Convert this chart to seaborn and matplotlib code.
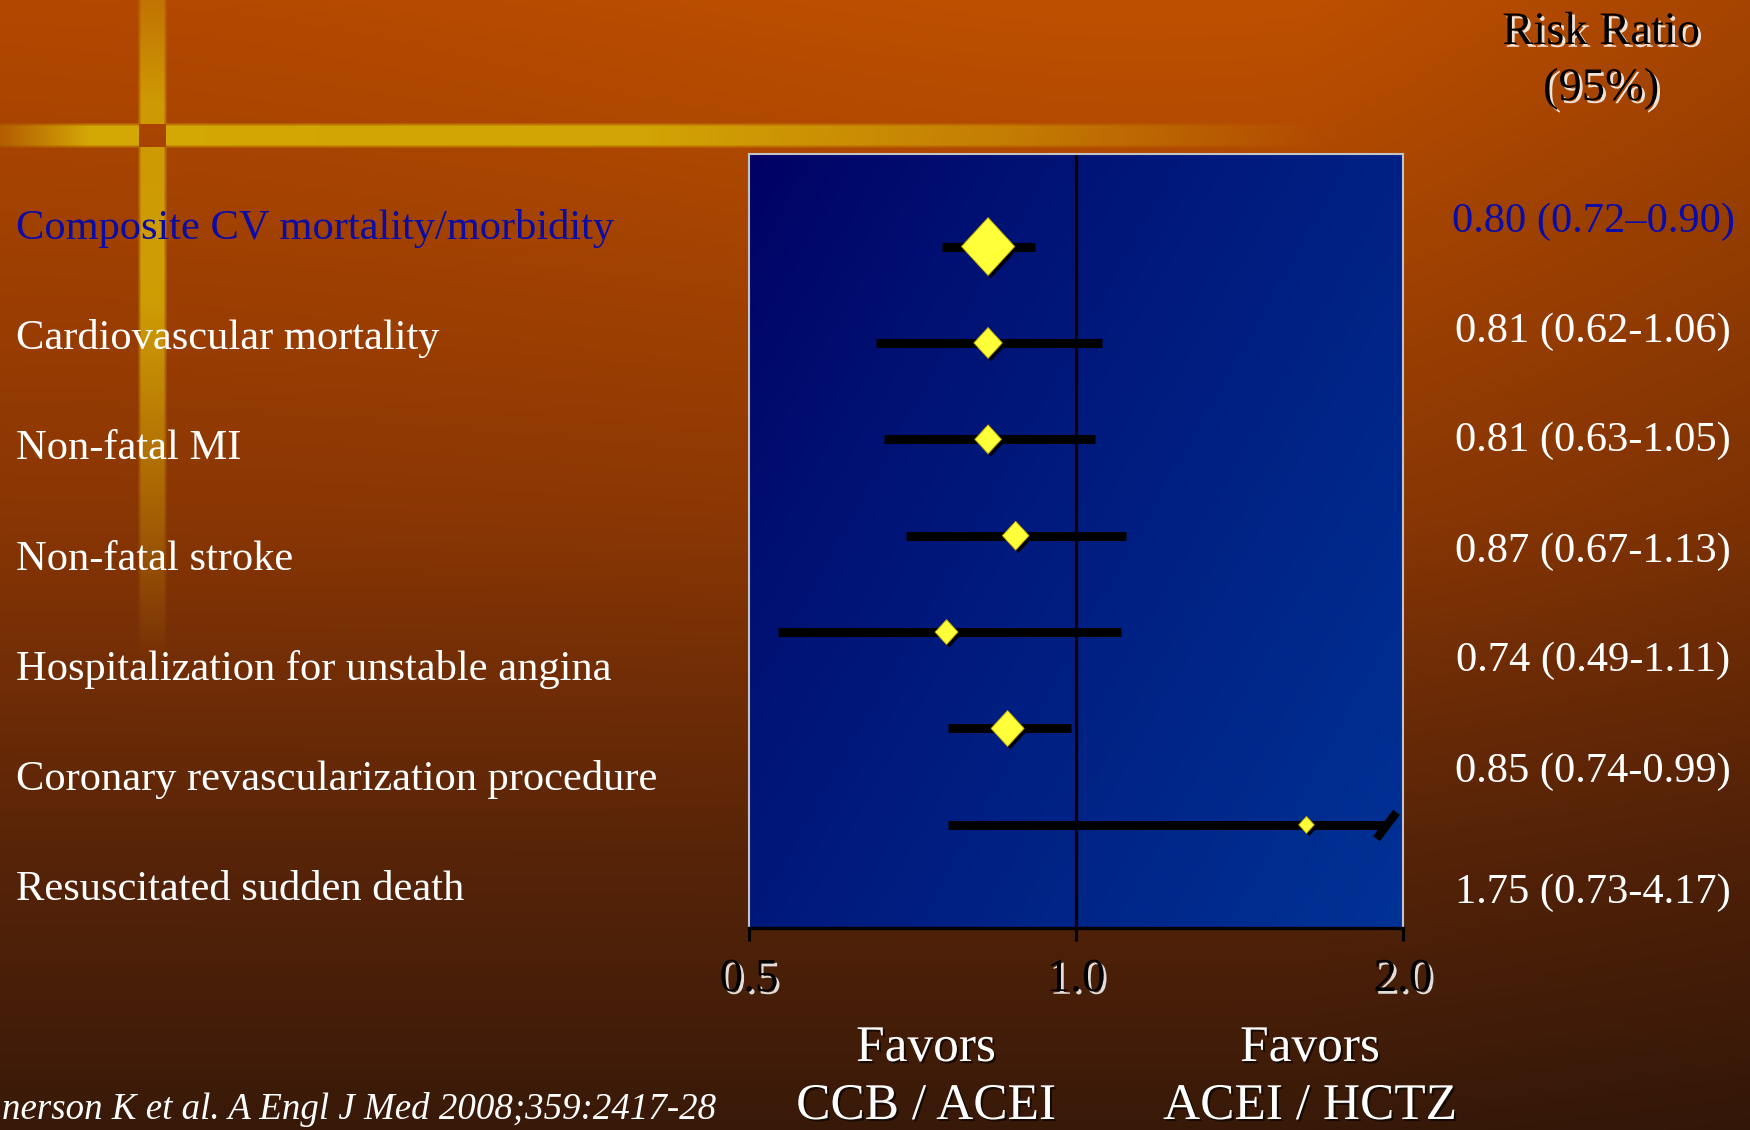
import numpy as np
import pandas as pd
import matplotlib
matplotlib.use("Agg")
import matplotlib.pyplot as plt
import matplotlib.patheffects as pe
import matplotlib.transforms as mtransforms
from matplotlib.path import Path
from matplotlib.markers import MarkerStyle
from matplotlib.ticker import NullLocator
import seaborn as sns

# ---------------- data ----------------
outcomes = [
    "Composite CV mortality/morbidity",
    "Cardiovascular mortality",
    "Non-fatal MI",
    "Non-fatal stroke",
    "Hospitalization for unstable angina",
    "Coronary revascularization procedure",
    "Resuscitated sudden death",
]
rr_labels = [
    "0.80 (0.72\u20130.90)",
    "0.81 (0.62-1.06)",
    "0.81 (0.63-1.05)",
    "0.87 (0.67-1.13)",
    "0.74 (0.49-1.11)",
    "0.85 (0.74-0.99)",
    "1.75 (0.73-4.17)",
]
# values as drawn on the plot
rr_point = [0.83, 0.83, 0.83, 0.88, 0.76, 0.865, 1.63]
ci_low = [0.752, 0.655, 0.665, 0.698, 0.532, 0.762, 0.762]
ci_high = [0.917, 1.056, 1.042, 1.111, 1.101, 0.99, 4.17]
xticks = [0.5, 1.0, 2.0]
xtick_labels = ["0.5", "1.0", "2.0"]
favor_left = ["Favors", "CCB / ACEI"]
favor_right = ["Favors", "ACEI / HCTZ"]
header = ["Risk Ratio", "(95%)"]
citation = "nerson K et al. A Engl J Med 2008;359:2417-28"

# ---------------- style ----------------
marker_px = [58, 31, 29, 29, 25, 36, 17]     # diamond heights (px)
W, H = 1750, 1130
BOX = (749, 154, 1403, 928)                   # left, top, right, bottom (px)
CLIP_X = 1.93
serif = "Liberation Serif"
BLUE_TXT = "#0B0BA6"

sns.set_style("white")
plt.rcParams["font.family"] = [serif, "DejaVu Serif"]

# ---------------- background image ----------------
yy, xx = np.mgrid[0:H, 0:W].astype(float)
v = yy / H
stops_v = [0.0, 0.45, 0.75, 1.0]
cols = np.array([[178, 72, 0], [138, 54, 4], [88, 36, 8], [56, 25, 9]], float)
bg = np.zeros((H, W, 3))
for c in range(3):
    bg[..., c] = np.interp(v, stops_v, cols[:, c])
glow = np.exp(-(((xx - 1150) / 700) ** 2 + ((yy - 0) / 450) ** 2))
bg += glow[..., None] * np.array([12, 8, 0])
bg *= (1 - 0.10 * np.clip((xx - 1300) / 450, 0, 1))[..., None]

gold = np.array([212, 168, 5], float)
hy = np.clip((13 - np.abs(yy - 135)) / 4, 0, 1)
hx = np.interp(xx, [0, 90, 650, 1000, 1320], [0.25, 1.0, 0.95, 0.55, 0.0])
ah = hy * hx
vx = np.clip((15 - np.abs(xx - 152)) / 4, 0, 1)
vyp = np.interp(yy, [0, 100, 300, 500, 660], [0.45, 0.85, 0.9, 0.4, 0.0])
av = vx * vyp
a = np.maximum(ah, av)
inter = (np.abs(xx - 152) < 14) & (np.abs(yy - 135) < 12)
a[inter] = 0
bg = bg * (1 - a[..., None]) + gold * a[..., None]

l, t, r, b = BOX
inbox = (xx >= l) & (xx < r) & (yy >= t) & (yy < b)
tt = ((xx - l) / (r - l) * 0.6 + (yy - t) / (b - t) * 0.4)
tt = np.clip(tt, 0, 1) ** 0.8
blue0 = np.array([0, 0, 98], float)
blue1 = np.array([0, 50, 150], float)
bl = blue0 + tt[..., None] * (blue1 - blue0)
bg[inbox] = bl[inbox]
bg = np.clip(bg, 0, 255).astype(np.uint8)

# ---------------- figure ----------------
fig = plt.figure(figsize=(W / 100, H / 100), dpi=100)
fig.figimage(bg, xo=0, yo=0, origin="upper", zorder=-10)

ax = fig.add_axes([l / W, 1 - b / H, (r - l) / W, (b - t) / H])
ax.set_zorder(1)
ax.set_facecolor("none")
ax.set_xscale("log", base=2)

df = pd.DataFrame({
    "outcome": outcomes,
    "row": np.arange(len(outcomes)),
    "rr": rr_point,
    "lo": ci_low,
    "hi": ci_high,
})
df["hi_draw"] = np.minimum(df["hi"], CLIP_X)

ax.axvline(1.0, color="black", lw=2.3, zorder=1.5)
ax.hlines(df["row"], df["lo"], df["hi_draw"], color="black", lw=6.5, zorder=2)

slash = Path([(-0.38, -0.5), (0.38, 0.5)], [Path.MOVETO, Path.LINETO])
trunc = df[df["hi"] > CLIP_X]
ax.plot(trunc["hi_draw"], trunc["row"], linestyle="none", marker=slash,
        markersize=19, markeredgewidth=6, color="black", zorder=2,
        clip_on=False)

diamond = MarkerStyle(Path([(0, 1), (0.92, 0), (0, -1), (-0.92, 0), (0, 1)],
                           [Path.MOVETO, Path.LINETO, Path.LINETO, Path.LINETO,
                            Path.CLOSEPOLY]))
sizes = [(p * 0.72) ** 2 for p in marker_px]
sns.scatterplot(data=df, x="rr", y="row", s=sizes, marker=diamond,
                color="#FFFF3A", edgecolor="#B8A000", linewidth=0.6,
                legend=False, ax=ax, zorder=4)
ax.collections[-1].set_path_effects([
    pe.SimplePatchShadow(offset=(2, -2), shadow_rgbFace="black", alpha=0.95),
    pe.Normal()])

ax.set_xlim(xticks[0], xticks[-1])
ax.set_ylim(7.07, -0.96)
ax.set_xticks(xticks)
ax.set_xticklabels([])
ax.xaxis.set_minor_locator(NullLocator())
ax.set_yticks([])
ax.set_xlabel("")
ax.set_ylabel("")
ax.tick_params(axis="x", direction="out", length=9.5, width=2.2,
               color="black", bottom=True)
for side in ["left", "right", "top"]:
    ax.spines[side].set_color("#C4C4C8")
    ax.spines[side].set_linewidth(1.5)
ax.spines["bottom"].set_color("black")
ax.spines["bottom"].set_linewidth(2.4)

shadow_white = [pe.SimplePatchShadow(offset=(2, -2), shadow_rgbFace="white",
                                     alpha=0.85), pe.Normal()]
shadow_dark = [pe.SimplePatchShadow(offset=(1.5, -1.5), shadow_rgbFace="black",
                                    alpha=0.6), pe.Normal()]

blend = mtransforms.blended_transform_factory(ax.transData, fig.transFigure)
for val, lab in zip(xticks, xtick_labels):
    ax.text(val, 1 - 991 / H, lab, transform=blend, ha="center", va="baseline",
            fontsize=34, color="black", path_effects=shadow_white,
            clip_on=False)

for i, name in enumerate(outcomes):
    base = 239 + i * 110.2
    fig.text(15.6 / W, 1 - base / H, name, ha="left", va="baseline",
             fontsize=30.6, color=BLUE_TXT if i == 0 else "white")

right_base = [232, 342, 451, 562, 671, 782, 903]
for i, lab in enumerate(rr_labels):
    fig.text(1593 / W, 1 - right_base[i] / H, lab, ha="center", va="baseline",
             fontsize=30.6, color=BLUE_TXT if i == 0 else "white")

fig.text(1601 / W, 1 - 44 / H, header[0], ha="center", va="baseline",
         fontsize=33.5, color="black", path_effects=shadow_white)
fig.text(1601 / W, 1 - 100 / H, header[1], ha="center", va="baseline",
         fontsize=33.5, color="black", path_effects=shadow_white)

fig.text(926 / W, 1 - 1061 / H, favor_left[0], ha="center", va="baseline",
         fontsize=37, color="white", path_effects=shadow_dark)
fig.text(926 / W, 1 - 1119 / H, favor_left[1], ha="center", va="baseline",
         fontsize=37, color="white", path_effects=shadow_dark)
fig.text(1310 / W, 1 - 1061 / H, favor_right[0], ha="center", va="baseline",
         fontsize=37, color="white", path_effects=shadow_dark)
fig.text(1310 / W, 1 - 1119 / H, favor_right[1], ha="center", va="baseline",
         fontsize=37, color="white", path_effects=shadow_dark)

fig.text(2 / W, 1 - 1119 / H, citation, ha="left", va="baseline",
         fontsize=26.6, style="italic", color="white")

fig.savefig("out.png", dpi=100)
